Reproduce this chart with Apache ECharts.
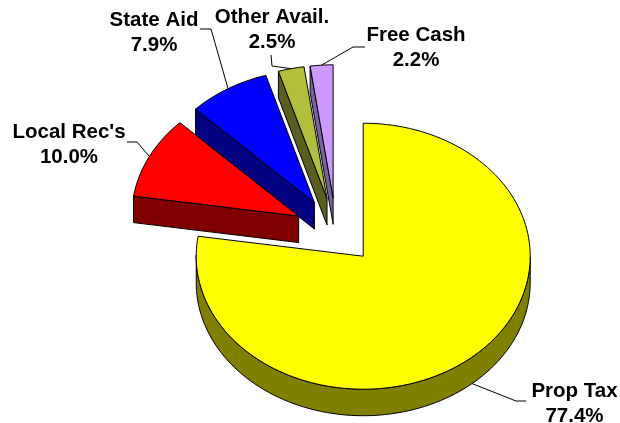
<!DOCTYPE html>
<html>
<head>
<meta charset="utf-8">
<style>html,body{margin:0;padding:0;background:#fff}#c{width:620px;height:423px}</style>
<script src="https://cdn.jsdelivr.net/npm/echarts@6/dist/echarts.min.js"></script>
</head>
<body>
<div id="c"></div>
<script>
var categories = ['Prop Tax', "Local Rec's", 'State Aid', 'Other Avail.', 'Free Cash'];
var values = [77.4, 10.0, 7.9, 2.5, 2.2];
var topColors = ['#ffff00', '#ff0000', '#0000ff', '#b2bf3c', '#cc99ff'];
var wallColors = ['#808000', '#800000', '#000080', '#595f1e', '#7a64a0'];
// label block centre-top, and the elbow where each leader line meets its label
var labelAt = [[574.5, 379], [69, 120], [154, 8], [272, 5], [416, 23]];
var elbows = [[[516, 401], [526, 401]], [[137, 142], [127, 142]], [[211, 29], [200, 29]], [[272, 66], [271, 55]], [[353, 47], [365, 47]]];

var CX = 336, CY = 231, RX = 167, RY = 133, DEPTH = 26.5, EXPLODE = 0.25;
var total = values.reduce(function (a, b) { return a + b; }, 0);
var DEG = Math.PI / 180;

function pt(cx, cy, th) {
  return [cx + Math.sin(th) * RX, cy - Math.cos(th) * RY];
}
function renderSlice(params, api) {
  var i = params.dataIndex, start = 0;
  for (var k = 0; k < i; k++) start += values[k];
  var a0 = start / total * 2 * Math.PI;
  var a1 = (start + api.value(0)) / total * 2 * Math.PI;
  var mid = (a0 + a1) / 2;
  var ax = CX + Math.sin(mid) * RX * EXPLODE;
  var ay = CY - Math.cos(mid) * RY * EXPLODE;
  var poly = [[ax, ay]];
  var steps = Math.max(3, Math.round((a1 - a0) / DEG / 2));
  for (var s = 0; s <= steps; s++) poly.push(pt(ax, ay, a0 + (a1 - a0) * s / steps));
  var n = poly.length, children = [];
  var z = (values.length - i) * 10;
  // walls: runs of edges that face the viewer (running right to left)
  var startAt = 0;
  for (var e = 0; e < n; e++) {
    var p = poly[e], q = poly[(e + 1) % n];
    if (!(q[0] < p[0] - 1e-6)) { startAt = (e + 1) % n; break; }
  }
  var run = [];
  function flush() {
    if (run.length > 1) {
      var w = run.slice();
      for (var r = run.length - 1; r >= 0; r--) w.push([run[r][0], run[r][1] + DEPTH]);
      children.push({ type: 'polygon', z2: z, shape: { points: w },
        style: { fill: wallColors[i], stroke: '#000', lineWidth: 1 } });
    }
    run = [];
  }
  for (var e2 = 0; e2 < n; e2++) {
    var idx = (startAt + e2) % n, a = poly[idx], b = poly[(idx + 1) % n];
    if (b[0] < a[0] - 1e-6) {
      if (!run.length) run.push(a);
      run.push(b);
    } else flush();
  }
  flush();
  children.push({ type: 'polygon', z2: z + 1, shape: { points: poly },
    style: { fill: topColors[i], stroke: '#000', lineWidth: 1 } });
  // leader line from the arc's midpoint (outer wall for the front slice)
  var anchor = pt(ax, ay, mid);
  if (Math.cos(mid) < 0) anchor[1] += DEPTH;
  children.push({ type: 'polyline', z2: 100, shape: { points: [anchor].concat(elbows[i]) },
    style: { fill: null, stroke: '#000', lineWidth: 1 } });
  children.push({ type: 'text', z2: 101, x: labelAt[i][0], y: labelAt[i][1],
    style: { text: categories[i] + '\n' + values[i].toFixed(1) + '%', align: 'center', verticalAlign: 'top',
      font: 'bold 20.5px "Liberation Sans", Arial, sans-serif', lineHeight: 25, fill: '#000' } });
  return { type: 'group', children: children };
}
var chart = echarts.init(document.getElementById('c'), null, { renderer: 'canvas' });
chart.setOption({
  animation: false,
  backgroundColor: '#fff',
  series: [{
    type: 'custom',
    coordinateSystem: 'none',
    silent: true,
    clip: false,
    renderItem: renderSlice,
    encode: { value: 0 },
    data: values.map(function (v) { return [v]; })
  }]
});
</script>
</body>
</html>
